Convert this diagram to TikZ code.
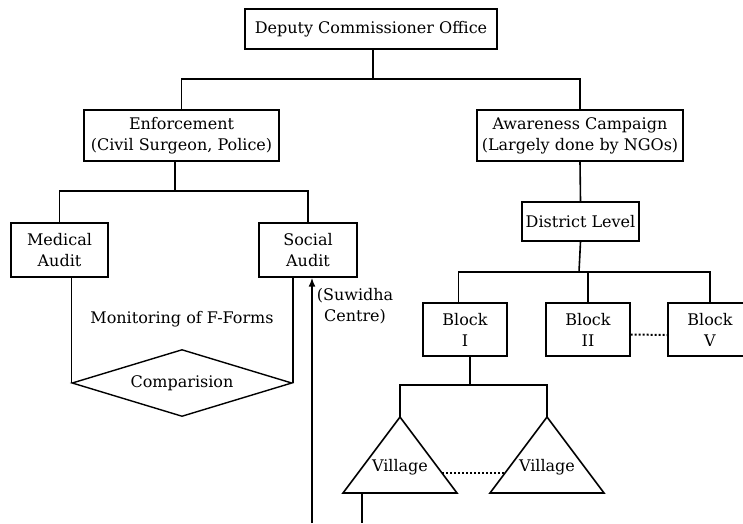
\documentclass[tikz,border=0pt]{standalone}
\usepackage{fontspec}
\setmainfont{DejaVu Serif}
\usetikzlibrary{shapes.geometric,arrows.meta}
\begin{document}
\begin{tikzpicture}
[x=1pt,y=-1pt,font=\fontsize{16}{21}\selectfont,
  boxdecorate/.style={shape=rectangle,draw,line width=1.4pt,align=center,inner sep=0pt},%
  linedecorate/.style={-,line width=1.6pt},
  dotdecorate/.style={dotted,line width=2pt}]
\useasboundingbox (0,0) rectangle (743,523);
%% boxes
\foreach \nodename/\nodelabel/\x/\y/\boxw/\boxh in {
  office/{Deputy Commissioner Office}/371/29/252/40,
  enforce/{Enforcement\\(Civil Surgeon, Police)}/181.5/135.5/195/51,
  aware/{Awareness Campaign\\(Largely done by NGOs)}/580/135.5/206/51,
  medical/{Medical\\Audit}/59.5/250/97/54,
  social/{Social\\Audit}/308/250/98/54,
  district/{District Level}/580.5/221.5/117/39,
  blockI/{Block\\I}/465/329.5/84/53,
  blockII/{Block\\II}/588/329.5/84/53,
  blockV/{Block\\V}/710/329.5/84/53} {
  \node (\nodename) at (\x,\y) [boxdecorate,minimum width=\boxw pt,minimum height=\boxh pt] {\nodelabel};
}
\node (comp) at (182,383) [shape=diamond,aspect=3.3,draw,line width=1.4pt,minimum width=220pt,minimum height=67pt,inner sep=0pt] {Comparision};
%% villages
\foreach \vname/\ax in {vilA/400, vilB/547} {
  \coordinate (\vname top) at (\ax,417);
  \draw[linedecorate] (\vname top) -- ++(57,76) -- ++(-114,0) -- cycle;
  \node (\vname) at (\ax,467) {Village};
}
\coordinate (vilAedge) at (442,473);
\coordinate (vilBedge) at (505,473);
\coordinate (vilAbase) at (362,493);
\coordinate (vilAfoot) at (362,523);
%% texts
\node (monitor) at (182,319) {Monitoring of F-Forms};
\node (suwidha) at (355,306) [align=center] {(Suwidha\\Centre)};
%% junctions
\coordinate (j1) at (373,79);
\coordinate (j2) at (175,191);
\coordinate (j3) at (579,272);
\coordinate (j4) at (470,385);
\coordinate (feed) at (312,523);
%% lines
\draw[linedecorate] (office.south -| j1) -- (j1);
\draw[linedecorate] (enforce.north) |- (j1) -| (aware.north);
\draw[linedecorate] (enforce.south -| j2) -- (j2);
\draw[linedecorate] (medical.north) |- (j2) -| (social.north);
\draw[linedecorate] (medical.south -| comp.west) -- (comp.west);
\draw[linedecorate] (social.south -| comp.east) -- (comp.east);
\draw[linedecorate,-{Latex[length=9pt,width=7pt]}] (feed) -- (feed |- social.south);
\draw[linedecorate] (aware.south) -- (district.north);
\draw[linedecorate] (district.south) -- (j3);
\draw[linedecorate] (j3 -| blockI.west) ++(36,0) coordinate (b1) -- (b1 |- blockI.north);
\draw[linedecorate] (b1) -- (j3) -| (blockV.north);
\draw[linedecorate] (blockII.north) -- (blockII.north |- j3);
\draw[dotdecorate] (blockII.east) ++(0,5) -- (blockV.west |- 0,335);
\draw[linedecorate] (blockI.south -| j4) -- (j4);
\draw[linedecorate] (vilAtop) |- (j4) -| (vilBtop);
\draw[dotdecorate] (vilAedge) -- (vilBedge);
\draw[linedecorate] (vilAbase) -- (vilAfoot);
\end{tikzpicture}
\end{document}
